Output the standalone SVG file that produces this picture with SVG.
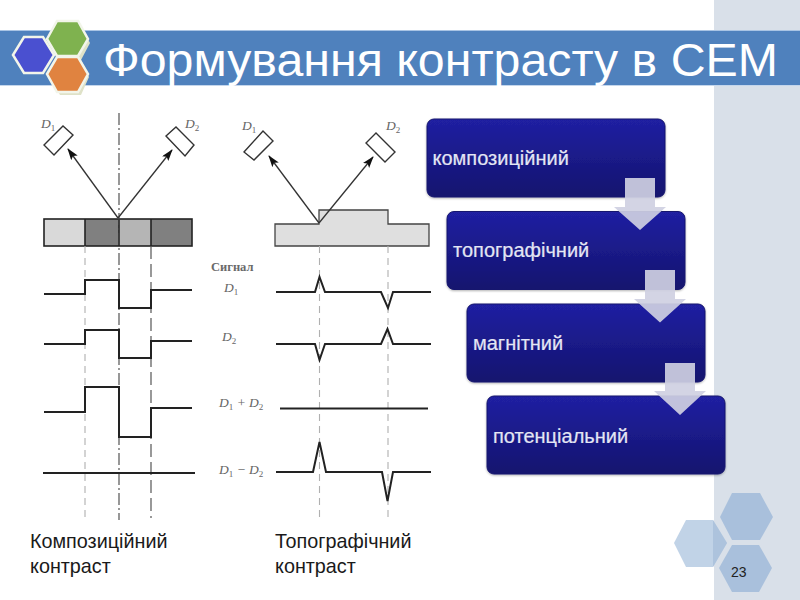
<svg xmlns="http://www.w3.org/2000/svg" width="800" height="600" viewBox="0 0 800 600">
<style>
.sig{fill:none;stroke:#222;stroke-width:2;stroke-linejoin:miter}
.thin{fill:none;stroke:#333;stroke-width:1.3}
.det{fill:#fff;stroke:#333;stroke-width:1.4}
.dash{fill:none;stroke:#b0b0b0;stroke-width:1.1;stroke-dasharray:7 5}
.dashd{fill:none;stroke:#555;stroke-width:1.2;stroke-dasharray:13 5}
.dd{fill:none;stroke:#444;stroke-width:1.1;stroke-dasharray:12 3 2 3}
.lab{font-family:"Liberation Serif",serif;font-style:italic;font-size:13.500px;fill:#666}
.sub{font-size:9px;font-style:normal}
.cap{font-family:"Liberation Sans",Arial,sans-serif;font-size:19.800px;fill:#1a1a1a}
.box{font-family:"Liberation Sans",Arial,sans-serif;font-size:20px;fill:#e4e6f4;stroke:#e4e6f4;stroke-width:.2}
.bx{fill:url(#bg);stroke:#15156e;stroke-width:1}
.arr{fill:#cfd0e2;fill-opacity:.92}
.hexw{stroke:#f2f5ea;stroke-width:2.5}
.frame{stroke:#222;stroke-width:1.6}
</style>
<defs>
<linearGradient id="bg" x1="0" y1="0" x2="0" y2="1"><stop offset="0" stop-color="#2020a2"/><stop offset="1" stop-color="#14146e"/></linearGradient>
<marker id="ah" markerWidth="12" markerHeight="10" refX="11" refY="4" orient="auto" markerUnits="userSpaceOnUse"><path d="M0 0L12 4L0 8L2.500 4Z" fill="#111"/></marker>
<filter id="sh" x="-10%" y="-10%" width="120%" height="120%"><feDropShadow dx="0" dy="1" stdDeviation="1.200" flood-color="#000" flood-opacity=".3"/></filter>
</defs>
<rect width="800" height="600" fill="#fff"/>
<rect id="panel" x="714" y="0" width="86" height="600" fill="#d9e0e9"/>
<g id="header">
<rect x="0" y="30" width="800" height="55" fill="#4f81bd"/>
<rect x="0" y="30" width="800" height="1" fill="#a9c4e4"/>
<rect x="0" y="85" width="800" height="1" fill="#c4d6ec"/>
<path d="M60 26L81 26L90 43L81 60L89 77L81 95L60 95L50 77L58 60L50 43Z" fill="#dfe2c8"/>
<polygon class="hexw" points="13,55 24,37 43,37 54,55 43,73 24,73" fill="#4a50d0"/>
<polygon class="hexw" points="47,39 57,21 78,21 88,39 78,56 57,56" fill="#7fb24f"/>
<polygon class="hexw" points="47,74 57,57 78,57 88,74 78,92 57,92" fill="#e08340"/>
<text x="103" y="76" font-family="'Liberation Sans',Arial,sans-serif" font-size="47" fill="#fff" textLength="675" lengthAdjust="spacingAndGlyphs">Формування контрасту в СЕМ</text>
</g>
<g id="composition-diagram">
<rect x="44" y="219" width="41" height="27" fill="#d9d9d9"/>
<rect x="85" y="219" width="34" height="27" fill="#808080"/>
<rect x="119" y="219" width="32" height="27" fill="#b5b5b5"/>
<rect x="151" y="219" width="41" height="27" fill="#808080"/>
<rect x="44" y="219" width="148" height="27" fill="none" class="frame"/>
<path d="M85 219V246M119 219V246M151 219V246" class="frame"/>
<polygon class="det" points="44,145 63,126 73,135 54,155"/>
<polygon class="det" points="166,136 176,127 194,145 185,156"/>
<text class="lab" x="41" y="128">D<tspan class="sub" dy="3">1</tspan></text>
<text class="lab" x="185" y="128">D<tspan class="sub" dy="3">2</tspan></text>
<path class="dash" d="M85 246V520"/>
<path class="dd" d="M119 113V520"/>
<path class="dashd" d="M151 246V518"/>
<path class="sig" d="M44 294H85V280H119V308H151V290H192"/>
<path class="sig" d="M44 344H85V330H119V358H151V341H192"/>
<path class="sig" d="M44 412H85V387H119V437H151V408H192"/>
<path class="sig" d="M43 473H195"/>
</g>
<g id="topography-diagram">
<path d="M275 224H319V210H388V224H429V246H275Z" fill="#dfdfdf" stroke="#444" stroke-width="1.300"/>
<polygon class="det" points="244,152 263,131 273,141 254,160"/>
<polygon class="det" points="366,143 376,133 395,152 385,162"/>
<text class="lab" x="242" y="130">D<tspan class="sub" dy="3">1</tspan></text>
<text class="lab" x="386" y="130">D<tspan class="sub" dy="3">2</tspan></text>
<path class="dash" d="M319.500 246V520M388 246V520"/>
<path class="sig" d="M276 292H315L319.500 277L325 292H381L388 308L393 292H431"/>
<path class="sig" d="M276 344H315L319.500 360L325 344H381L387.500 329L393 344H431"/>
<path class="sig" d="M280 408.500H428"/>
<path class="sig" d="M276 472H313L319.500 442L326 472H382L387.500 501L393 472H431"/>
</g>
<g id="signal-labels">
<text x="211" y="271" font-family="'Liberation Serif',serif" font-size="12.500px" font-weight="bold" fill="#6a6a6a">Сигнал</text>
<text class="lab" x="224" y="292">D<tspan class="sub" dy="3">1</tspan></text>
<text class="lab" x="222" y="341">D<tspan class="sub" dy="3">2</tspan></text>
<text class="lab" x="219" y="407">D<tspan class="sub" dy="3">1</tspan><tspan dy="-3"> + D</tspan><tspan class="sub" dy="3">2</tspan></text>
<text class="lab" x="219" y="474">D<tspan class="sub" dy="3">1</tspan><tspan dy="-3"> − D</tspan><tspan class="sub" dy="3">2</tspan></text>
</g>
<g id="captions">
<text class="cap" x="30" y="548">Композиційний</text>
<text class="cap" x="30" y="573">контраст</text>
<text class="cap" x="275" y="548">Топографічний</text>
<text class="cap" x="275" y="573">контраст</text>
</g>
<g id="node-kompozytsiinyi"><rect class="bx" x="427" y="119" width="238" height="78" rx="7" filter="url(#sh)"/><text class="box" x="432.500" y="165">композиційний</text></g>
<g id="node-topohrafichnyi"><rect class="bx" x="447" y="211.500" width="238" height="78" rx="7" filter="url(#sh)"/><text class="box" x="453" y="257">топографічний</text></g>
<g id="node-mahnitnyi"><rect class="bx" x="467" y="304" width="238" height="78" rx="7" filter="url(#sh)"/><text class="box" x="473" y="350">магнітний</text></g>
<g id="node-potentsialnyi"><rect class="bx" x="487" y="396" width="238" height="78" rx="7" filter="url(#sh)"/><text class="box" x="493" y="443">потенціальний</text></g>
<g id="connectors">
<path class="thin" d="M118 218L68 149" marker-end="url(#ah)"/>
<path class="thin" d="M118 218L172 150" marker-end="url(#ah)"/>
<path class="thin" d="M319 223L269 156" marker-end="url(#ah)"/>
<path class="thin" d="M319 223L373 157" marker-end="url(#ah)"/>
<path class="arr" d="M625 178H655V207H666L640 230L614 207H625Z"/>
<path class="arr" d="M645 270H675V299H686L660 322.500L634 299H645Z"/>
<path class="arr" d="M665 363H695V391H706L680 415L654 391H665Z"/>
</g>
<g id="footer-decor">
<polygon points="720,517 732,493 760,493 773,517 760,540 732,540" fill="#a9c0dc"/>
<polygon points="674,543 686,520 713,520 727,543 713,567 686,567" fill="#c1d3e7"/>
<polygon points="713,520 727,543 713,567" fill="#adc3dd"/>
<polygon points="719,568 732,545 759,545 772,568 759,592 732,592" fill="#a9c0dc"/>
<text x="731" y="577" font-family="'Liberation Sans',Arial,sans-serif" font-size="14" fill="#222">23</text>
</g>
</svg>
